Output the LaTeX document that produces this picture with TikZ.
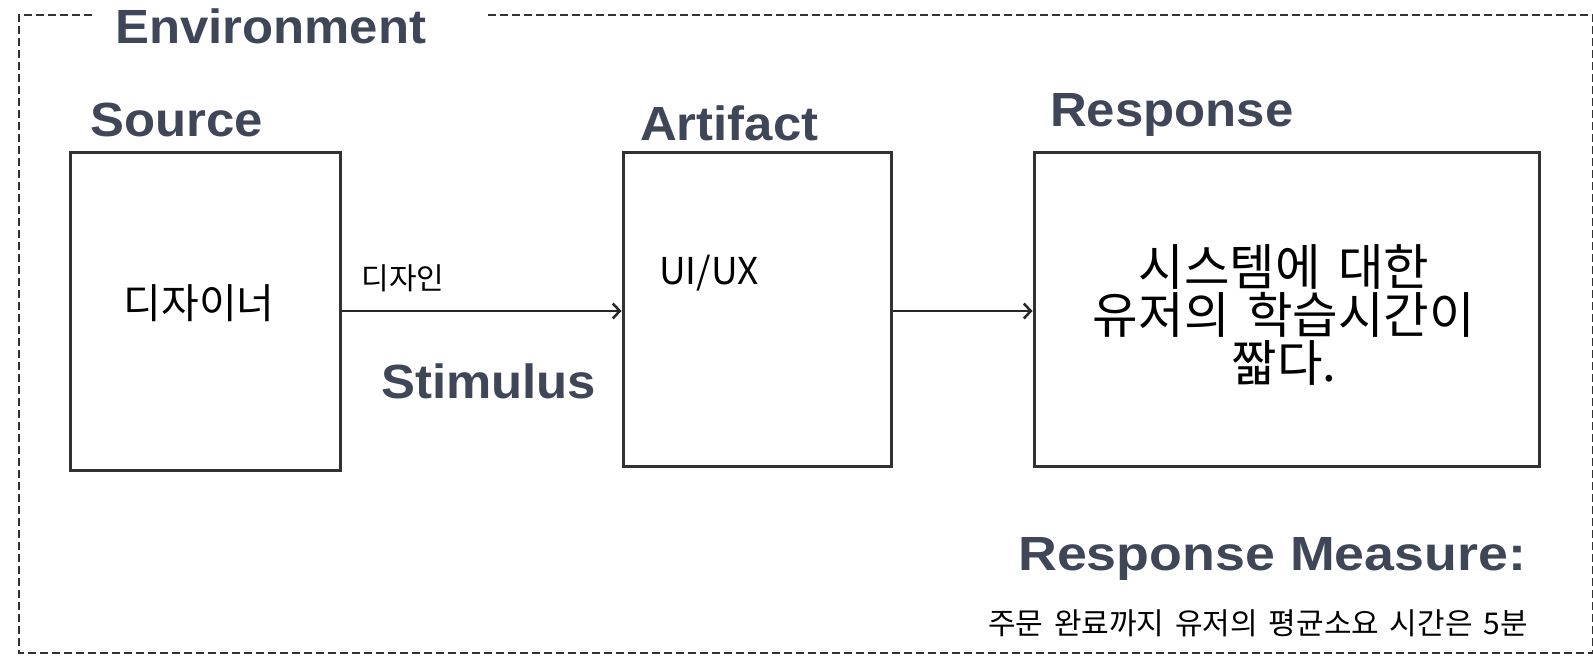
\documentclass[tikz,border=0pt]{standalone}
\usepackage{fontspec}
\setmainfont{Liberation Sans}
\newfontfamily\headfont[FakeStretch=1.06]{Liberation Sans Bold}
\newfontfamily\headwide[FakeStretch=1.12]{Liberation Sans Bold}
\newfontfamily\kr[WordSpace=1.6]{Noto Sans CJK KR}
\usetikzlibrary{arrows.meta}
\definecolor{headc}{RGB}{62,70,88}
\definecolor{linec}{RGB}{50,50,50}
\definecolor{framec}{RGB}{50,50,50}
\begin{document}
\begin{tikzpicture}[x=1pt,y=-1pt,
  heading/.style={font=\headfont\fontsize{48}{48}\selectfont, text=headc, inner sep=0pt, anchor=base west},
  boxnode/.style={draw=linec, line width=3pt, inner sep=0pt},
  envframe/.style={draw=framec, line width=2.8pt, dash pattern=on 8pt off 4pt},
  conn/.style={draw=black!85, line width=2.5pt, -{Straight Barb[length=7pt,width=15pt,line width=2.5pt]}},
  krtext/.style={font=\kr, inner sep=0pt, align=center}
]
\useasboundingbox (0,0) rectangle (1593,656);
\fill[white] (0,0) rectangle (1593,656);
% environment frame
\draw[envframe] (92,15) -- (19,15) -- (19,653) -- (1593,653) -- (1593,15) -- (488,15);
\node[heading] (env) at (115,43) {Environment};
% boxes
\node[boxnode, minimum width=270pt, minimum height=318pt] (src) at (205,311) {};
\node[boxnode, minimum width=268pt, minimum height=314pt] (art) at (757,309) {};
\node[boxnode, minimum width=505pt, minimum height=314pt] (resp) at (1286.5,309) {};
% headings
\node[heading] (srch) at (90,136) {Source};
\node[heading] (arth) at (640,140) {Artifact};
\node[heading] (resph) at (1050,126) {Response};
\node[heading] (stim) at (381,398) {Stimulus};
\node[heading, font=\headwide\fontsize{48}{48}\selectfont] (rmh) at (1018,570) {Response Measure:};
% texts
\node[krtext, font=\kr\fontsize{41}{41}\selectfont] (srct) at (199,303) {디자이너};
\node[krtext, font=\kr\fontsize{30}{30}\selectfont] (stimt) at (403,278) {디자인};
\node[krtext, font=\kr\fontsize{37}{37}\selectfont] (artt) at (709,273) {UI/UX};
\node[krtext, font=\kr\fontsize{49.5}{48}\selectfont] (respt) at (1284,315) {시스템에 대한\\유저의 학습시간이\\짧다.};
\node[krtext, font=\kr\fontsize{30}{30}\selectfont] (rmt) at (1258,623) {주문 완료까지 유저의 평균소요 시간은 5분};
% connectors
\coordinate (a1) at (src.east |- 0,311);
\coordinate (a2) at (art.west |- 0,311);
\coordinate (b1) at (art.east |- 0,311);
\coordinate (b2) at (resp.west |- 0,311);
\draw[conn] (a1) -- (a2);
\draw[conn] (b1) -- (b2);
\end{tikzpicture}
\end{document}
